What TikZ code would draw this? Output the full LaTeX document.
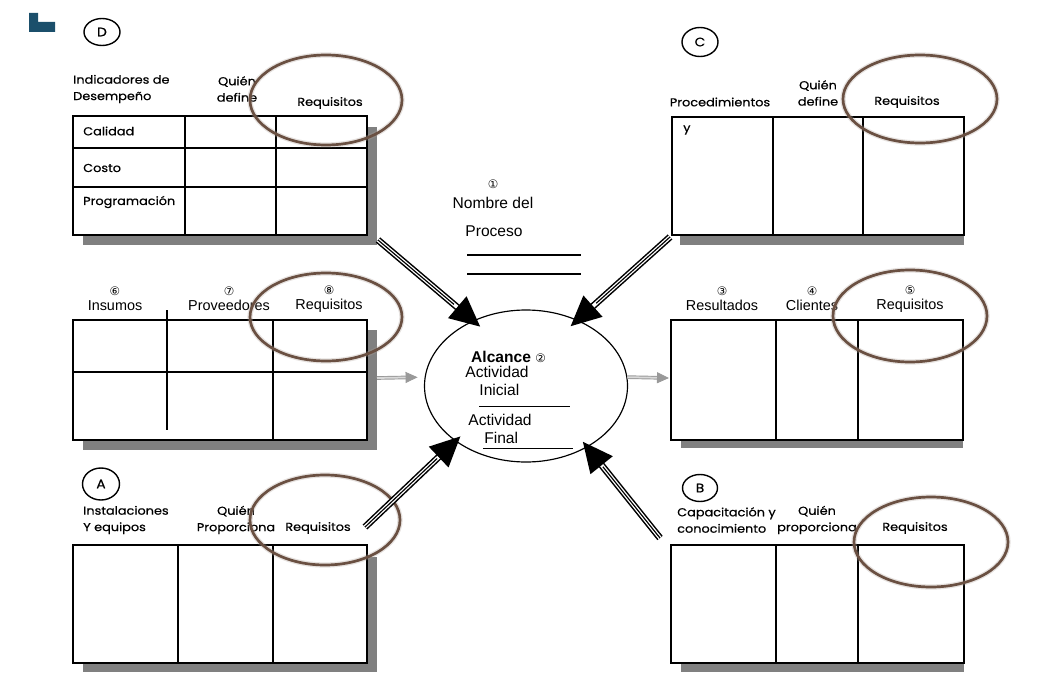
\documentclass[tikz,border=0pt]{standalone}
\usepackage{fontspec}
\setmainfont{Liberation Sans}
\newfontfamily\comic{Poppins}[FakeStretch=1.12, FakeBold=0.6]
\newfontfamily\sym{DejaVu Sans}
\usetikzlibrary{arrows.meta, positioning, calc, shapes.geometric}

\definecolor{marron}{HTML}{6A5042}
\definecolor{sombragris}{HTML}{808080}
\definecolor{logoazul}{HTML}{1B4F6B}

\newcommand{\circnum}[1]{{\sym\mdseries\fontsize{10}{10}\selectfont #1}}

\begin{document}
\begin{tikzpicture}[x=0.03cm, y=-0.03cm,
    tabla/.style 2 args={rectangle, draw, line width=1.1pt, fill=white, inner sep=0pt,
      minimum width=#1*0.03cm, minimum height=#2*0.03cm},
    rejilla/.style={line width=1.1pt},
    sombra/.style={fill=sombragris},
    letra/.style 2 args={ellipse, draw, line width=1.2pt, inner sep=0pt,
      minimum width=#1*0.03cm, minimum height=#2*0.03cm, font=\comic\fontsize{10.5}{11}\selectfont},
    cab/.style={font=\comic\fontsize{9.8}{14}\selectfont, align=center, inner sep=0pt},
    celda/.style={font=\comic\fontsize{9.8}{10}\selectfont, inner sep=0pt, anchor=west},
    num/.style={font=\fontsize{12.3}{13}\selectfont, align=center, inner sep=0pt},
    centro/.style={font=\fontsize{13.3}{16}\selectfont, align=center, inner sep=0pt},
    marca/.style 2 args={ellipse, draw=marron, line width=2.3pt, inner sep=0pt,
      minimum width=#1*0.03cm, minimum height=#2*0.03cm,
      preaction={draw=marron!55, line width=4.5pt, opacity=.3}},
    negra/.style={draw=black, line width=1.3pt, double=white, double distance=3.2pt,
      -{Triangle[length=0.9cm, width=0.85cm]},
      postaction={draw=black, arrows=-, line width=1pt, shorten >=0.75cm}},
    gris/.style={draw=gray!80, line width=0.8pt, double=gray!30, double distance=1.5pt,
      -{Triangle[length=0.36cm, width=0.33cm]}}]

  \useasboundingbox (0,0) rectangle (1040,674);

  % logo
  \fill[logoazul] (29,13) rectangle (38,32) (29,22) rectangle (55,32);

  % sombras
  \fill[sombra] (83,127) rectangle (377,245);
  \fill[sombra] (680,235) rectangle (964,245);
  \fill[sombra] (83,330) rectangle (377,450);
  \fill[sombra] (681,440) rectangle (963,448);
  \fill[sombra] (83,557) rectangle (377,672);
  \fill[sombra] (681,663) rectangle (964,672);

  % D: indicadores
  \node[letra={36}{27}] (letD) at (102,32) {D};
  \node[tabla={294}{119}] (tabD) at (220,175.5) {};
  \foreach \c in {185,276} \draw[rejilla] (\c,116) -- (\c,235);
  \foreach \f in {148,187} \draw[rejilla] (73,\f) -- (367,\f);
  \node[cab, align=left, anchor=west] (indD) at (73,89) {Indicadores de\\Desempeño};
  \node[cab] (quienD) at (237,89) {Quién\\define};
  \node[cab] (reqD) at (330,103) {Requisitos};
  \node[celda] (calidad) at (83,131) {Calidad};
  \node[celda] (costo) at (83,168) {Costo};
  \node[celda] (progr) at (83,202) {Programación};

  % C: procedimientos
  \node[letra={36}{29}] (letC) at (700,42) {C};
  \node[tabla={292}{118}] (tabC) at (818,176) {};
  \foreach \c in {773,863} \draw[rejilla] (\c,117) -- (\c,235);
  \node[cab] (procC) at (720,102) {Procedimientos};
  \node[cab] (quienC) at (818,93) {Quién\\define};
  \node[cab] (reqC) at (907,102) {Requisitos};
  \node[celda] (yC) at (683,130) {y};

  % insumos
  \node[tabla={294}{120}] (tabI) at (220,380) {};
  \draw[rejilla] (73,372) -- (367,372);
  \draw[rejilla] (273,320) -- (273,440);
  \draw[rejilla] (167,310) -- (167,430);
  \node[num] (insumos) at (115,299) {\circnum{⑥}\\Insumos};
  \node[num] (prov) at (229,299) {\circnum{⑦}\\Proveedores};
  \node[num] (reqI) at (329,299) {\circnum{⑧}\\Requisitos};

  % resultados
  \node[tabla={292}{120}] (tabR) at (817,380) {};
  \foreach \c in {776,858} \draw[rejilla] (\c,320) -- (\c,440);
  \node[num] (result) at (722,299) {\circnum{③}\\Resultados};
  \node[num] (clientes) at (812,299) {\circnum{④}\\Clientes};
  \node[num] (reqR) at (910,299) {\circnum{⑤}\\Requisitos};

  % A: instalaciones
  \node[letra={37}{32}] (letA) at (101,484) {A};
  \node[tabla={294}{118}] (tabA) at (220,604) {};
  \foreach \c in {178,273} \draw[rejilla] (\c,545) -- (\c,663);
  \node[cab, align=left, anchor=west] (instA) at (83,520) {Instalaciones\\Y equipos};
  \node[cab] (quienA) at (236,520) {Quién\\Proporciona};
  \node[cab] (reqA) at (318,528) {Requisitos};

  % B: capacitacion
  \node[letra={35}{27}] (letB) at (700,488) {B};
  \node[tabla={293}{118}] (tabB) at (817.5,604) {};
  \foreach \c in {776,858} \draw[rejilla] (\c,545) -- (\c,663);
  \node[cab, align=left, anchor=west] (capB) at (677,520) {Capacitación y\\conocimiento};
  \node[cab] (quienB) at (817,520) {Quién\\proporciona};
  \node[cab] (reqB) at (915,528) {Requisitos};

  % proceso
  \node[num, font=\fontsize{13.3}{17}\selectfont] (nombre) at (493,194) {\circnum{①}\\Nombre del};
  \node[centro] (proceso) at (494,231) {Proceso};
  \draw[line width=0.9pt] (467,255) -- (581,255) (467,274) -- (581,274);

  \node[ellipse, draw, line width=1pt, minimum width=203*0.03cm, minimum height=152*0.03cm] (alcance) at (526,386) {};
  \node[centro, anchor=west, font=\bfseries\fontsize{13.3}{16}\selectfont] (alc) at (471,357) {Alcance \circnum{②}};
  \node[centro] (actIni) at (497,381) {Actividad\\\hspace*{4pt}Inicial};
  \draw[line width=0.8pt] (479,406) -- (570,406);
  \node[centro] (actFin) at (500,429) {Actividad\\\hspace*{2pt}Final};
  \draw[line width=0.8pt] (483,448) -- (573,448);

  % marcas de requisitos
  \node[marca={152}{90}] (marD) at (326,100) {};
  \node[marca={154}{88}] (marC) at (920,99) {};
  \node[marca={152}{88}] (marI) at (326,317) {};
  \node[marca={154}{92}] (marR) at (910,316) {};
  \node[marca={150}{90}] (marA) at (325,520) {};
  \node[marca={154}{90}] (marB) at (931,542) {};

  % flechas
  \coordinate (salD) at (378,240);
  \coordinate (salC) at (670,237);
  \coordinate (salA) at (365,527);
  \coordinate (salB) at (660,538);
  \coordinate (salI) at (377,378);
  \coordinate (entR) at (669,378);
  \draw[negra, shorten >=-8pt] (salD) -- (alcance.129);
  \draw[negra, shorten >=-8pt] (salC) -- (alcance.52);
  \draw[negra, shorten >=-6pt] (salA) -- (alcance.218);
  \draw[negra, shorten >=-6pt] (salB) -- (alcance.315);
  \draw[gris, shorten >=6pt] (salI) -- (alcance.175);
  \draw[gris] (alcance.5) -- (entR);
\end{tikzpicture}
\end{document}
